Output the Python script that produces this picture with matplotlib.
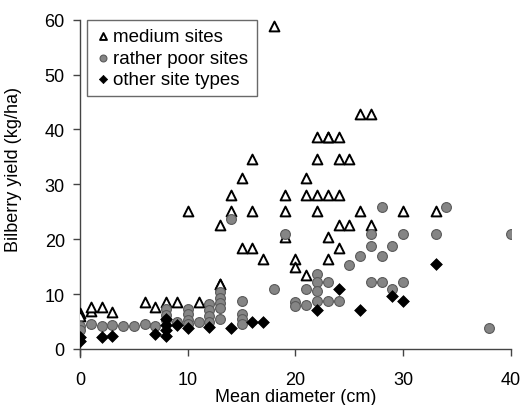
import numpy as np
import matplotlib
matplotlib.use("Agg")
from matplotlib import pyplot as plt

plt.rcParams['font.family'] = ['Liberation Sans', 'DejaVu Sans']

# medium sites (open triangles)
med_x = [0, 0, 1, 1, 2, 3, 6, 7, 8, 9, 11,
         10, 13, 13, 13, 14, 14, 15, 15, 16, 16, 16, 17, 18,
         19, 19, 19, 20, 20, 21, 21, 21, 22, 22, 22, 22,
         23, 23, 23, 23, 23, 24, 24, 24, 24, 24, 25, 25,
         26, 26, 27, 27, 30, 33]
med_y = [6.6, 5.9, 6.9, 7.6, 7.6, 6.7, 8.6, 7.6, 8.6, 8.6, 8.6,
         25.2, 22.5, 11.8, 11.8, 28.0, 25.2, 31.1, 18.3, 34.7, 25.2, 18.3, 16.4, 58.8,
         28.0, 25.2, 20.3, 16.4, 14.9, 31.1, 28.0, 13.4, 38.6, 34.7, 28.0, 25.2,
         38.6, 28.0, 20.3, 16.4, 38.6, 38.6, 34.7, 28.0, 22.5, 18.3, 34.7, 22.5,
         42.8, 25.2, 42.8, 22.6, 25.2, 25.2]

# rather poor sites (grey circles)
poor_x = [0, 0, 1, 2, 3, 4, 5, 6, 7, 8, 8, 8, 9, 10, 10, 10, 10, 11,
          12, 12, 12, 12, 13, 13, 13, 13, 13, 14, 15, 15, 15, 15, 18, 19,
          20, 20, 21, 21, 22, 22, 22, 22, 23, 23, 24, 25, 26,
          27, 27, 27, 28, 28, 28, 29, 29, 30, 30, 33, 34, 38, 40]
poor_y = [4.2, 3.4, 4.5, 4.2, 4.3, 4.2, 4.2, 4.5, 4.2, 7.2, 6.2, 5.3, 4.9, 7.3, 6.3, 5.3, 4.5, 4.9,
          8.2, 7.1, 6.0, 4.9, 10.3, 9.3, 8.3, 7.4, 5.5, 23.6, 8.8, 6.4, 5.5, 4.6, 11.0, 21.0,
          8.6, 7.9, 11.0, 8.0, 13.7, 12.1, 10.6, 8.8, 12.1, 8.8, 8.8, 15.3, 17.0,
          21.0, 18.7, 12.1, 25.8, 17.0, 12.1, 18.7, 10.9, 21.0, 12.1, 21.0, 25.8, 3.8, 21.0]

# other site types (black diamonds)
oth_x = [0, 0, 2, 3, 7, 8, 8, 8, 8, 9, 10, 12, 14, 16, 17, 22, 24, 26, 29, 30, 33]
oth_y = [2.1, 1.5, 2.1, 2.4, 2.7, 5.5, 4.4, 3.4, 2.4, 4.3, 3.8, 4.0, 3.8, 4.9, 4.9,
         7.0, 10.9, 7.0, 9.7, 8.7, 15.5]

fig = plt.figure(figsize=(5.30, 4.06), dpi=100)
ax = fig.add_axes([0.151, 0.118, 0.813, 0.831])

ax.scatter(med_x, med_y, marker='^', s=50, facecolors='white',
           edgecolors='black', linewidths=1.4, label='medium sites', zorder=3)
ax.scatter(poor_x, poor_y, marker='o', s=50, facecolors='#858585',
           edgecolors='#5a5a5a', linewidths=0.8, label='rather poor sites', zorder=4)
ax.scatter(oth_x, oth_y, marker='D', s=36, facecolors='black',
           edgecolors='black', linewidths=0.5, label='other site types', zorder=5)

ax.set_xlim(0, 40)
ax.set_ylim(-1.5, 60)
ax.set_xticks([0, 10, 20, 30, 40])
ax.set_yticks([0, 10, 20, 30, 40, 50, 60])

ax.spines['top'].set_visible(False)
ax.spines['right'].set_visible(False)
ax.spines['bottom'].set_position(('data', 0))
for sp in ['left', 'bottom']:
    ax.spines[sp].set_color('#444444')
    ax.spines[sp].set_linewidth(1.0)
ax.tick_params(direction='out', length=5, width=1.0, colors='#444444',
               labelcolor='black', labelsize=13)
ax.tick_params(axis='y', pad=6)
ax.tick_params(axis='x', pad=11)

ax.set_xlabel('Mean diameter (cm)', fontsize=13, labelpad=0)
ax.set_ylabel('Bilberry yield (kg/ha)', fontsize=13)
ax.yaxis.set_label_coords(-0.135, 0.56)

leg = ax.legend(loc='upper left', bbox_to_anchor=(0.016, 1.0), fontsize=13.5,
                frameon=True, fancybox=False, handletextpad=0.15,
                handlelength=0.8, borderpad=0.45, labelspacing=0.22,
                borderaxespad=0.0, markerscale=0.7)
leg.get_frame().set_edgecolor('#444444')
leg.get_frame().set_linewidth(1.0)

fig.savefig('out.png', dpi=100)
